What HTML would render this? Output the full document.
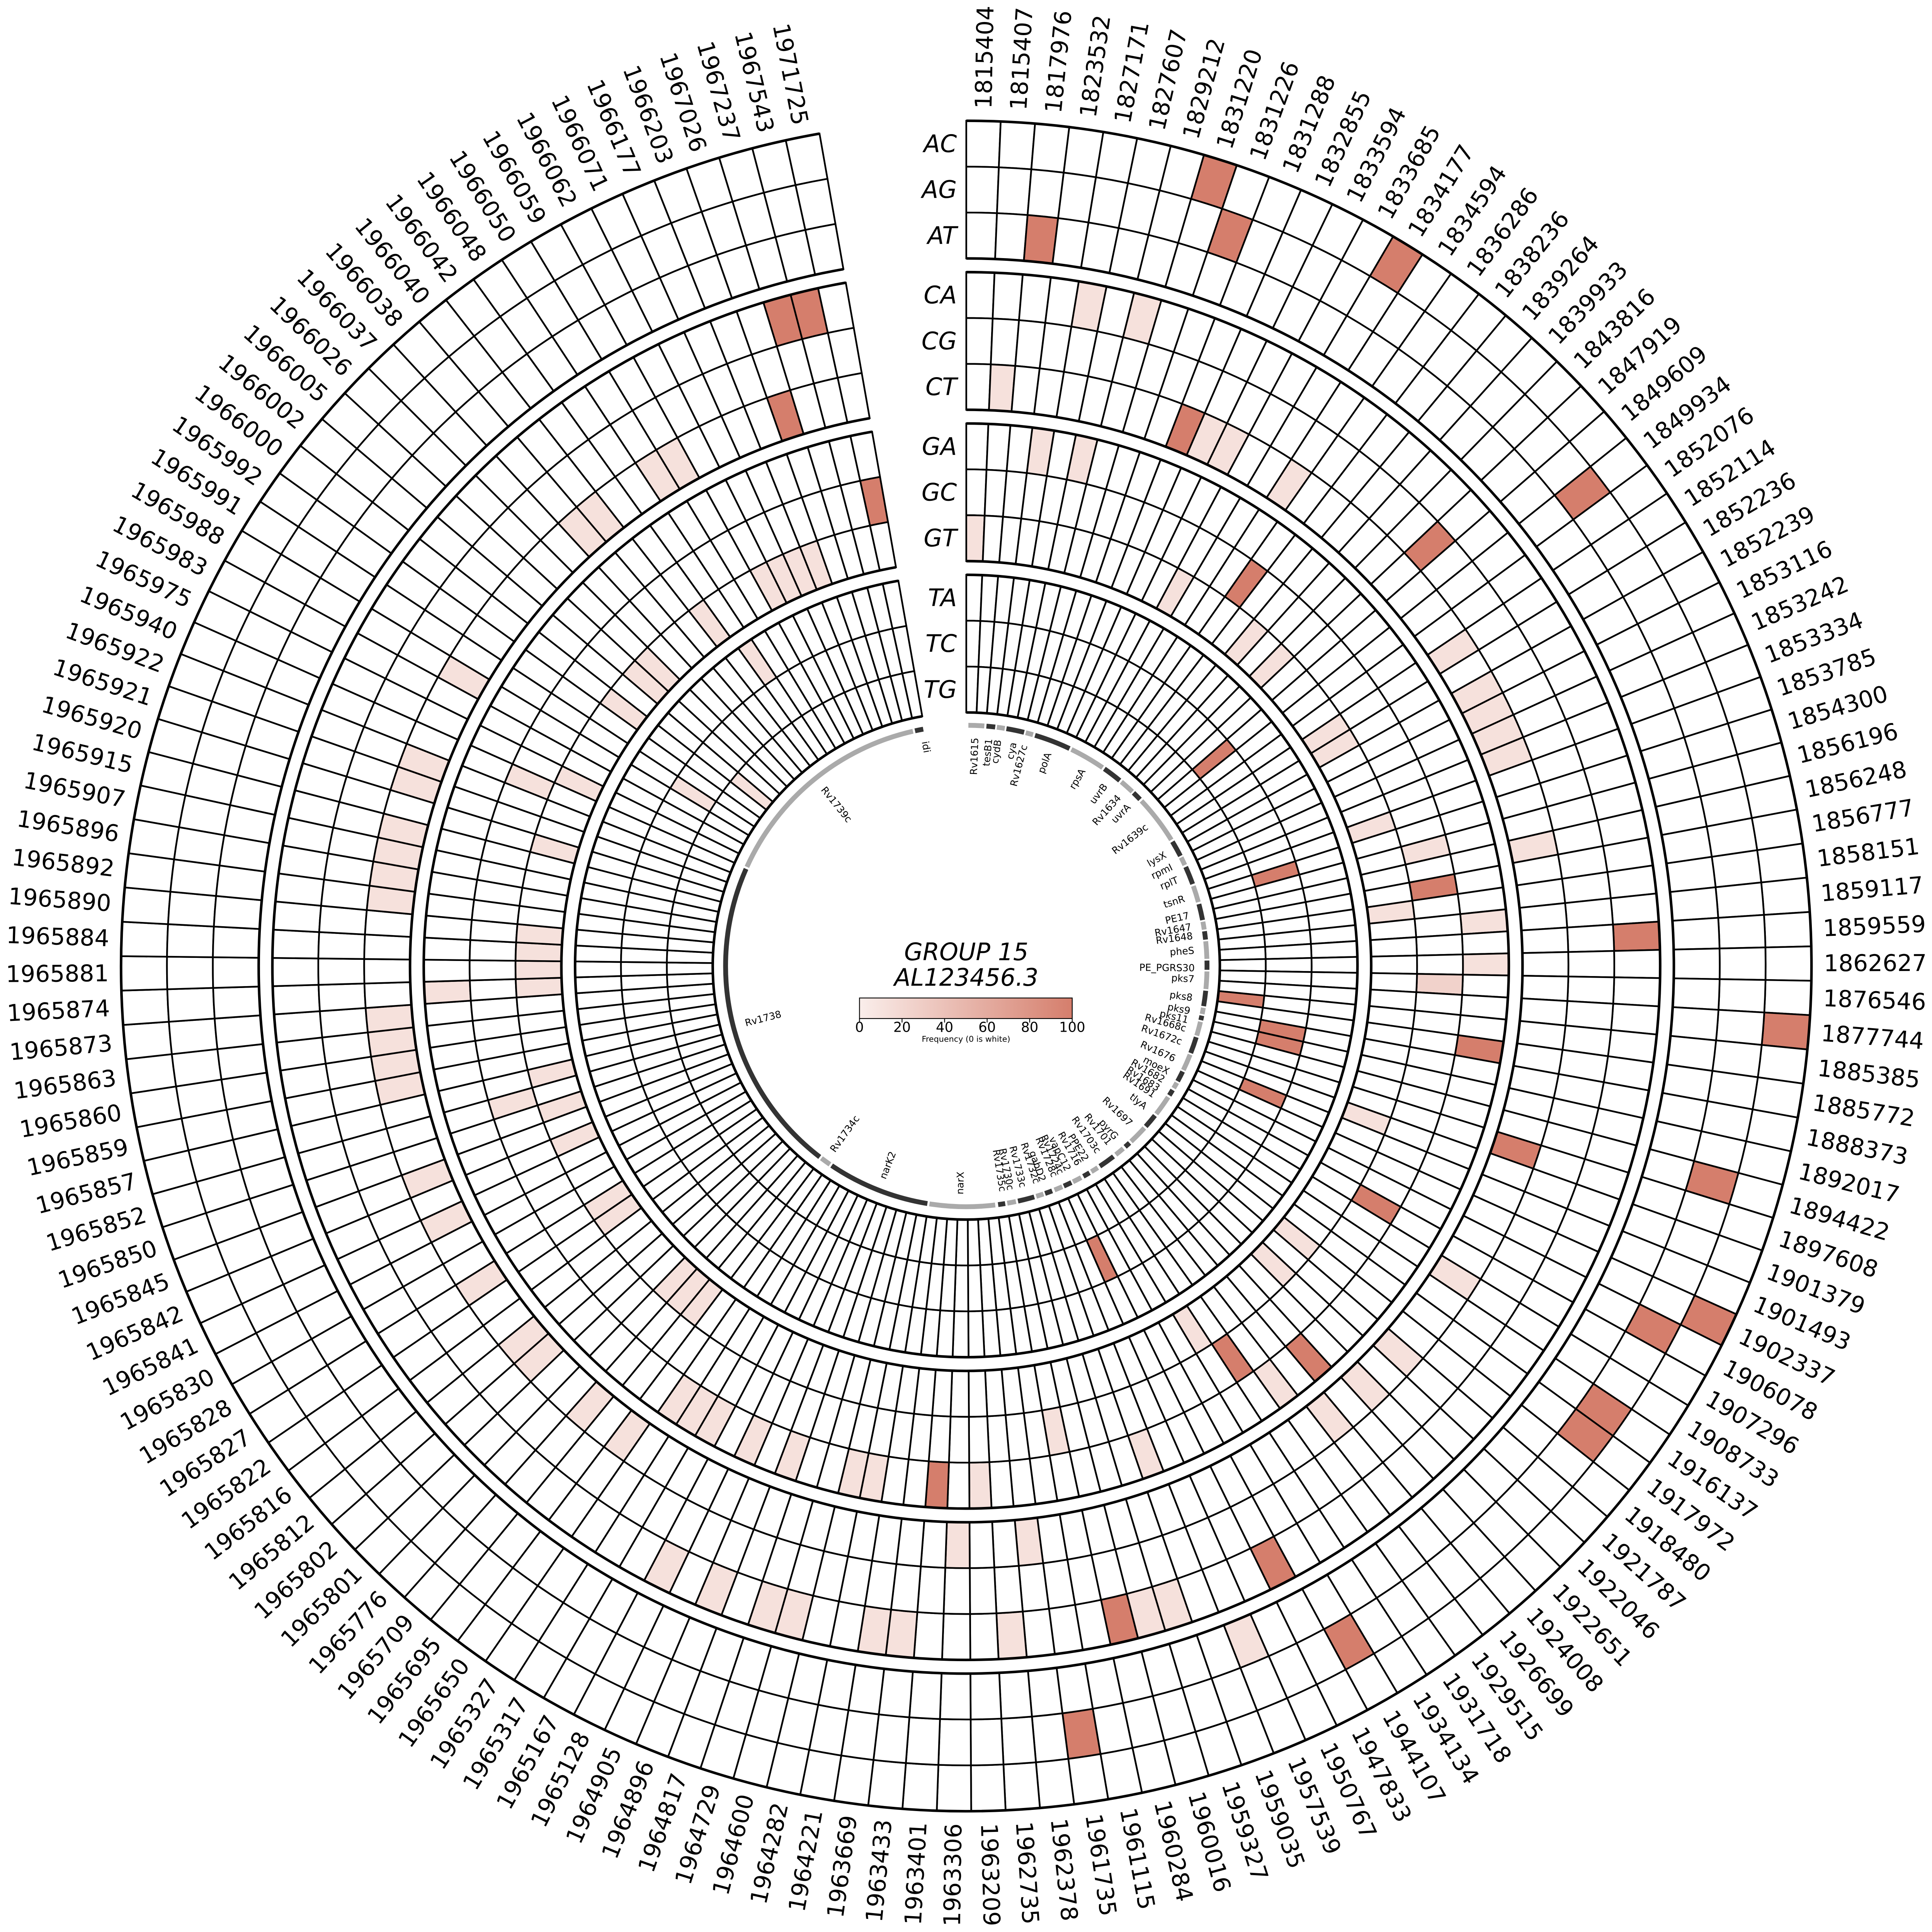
<!DOCTYPE html>
<html><head><meta charset="utf-8"><title>GROUP 15 circular heatmap</title>
<style>
html,body{margin:0;padding:0;background:#fff;width:100%;height:100%;overflow:hidden;}
svg{display:block;width:100vw;height:100vh;font-family:"DejaVu Sans","Liberation Sans",sans-serif;}
</style></head>
<body>
<svg id="chart" xmlns="http://www.w3.org/2000/svg" viewBox="0 0 6766 6766" preserveAspectRatio="xMidYMid meet">
<defs>
<linearGradient id="cbgrad" x1="0" y1="0" x2="1" y2="0">
<stop offset="0" stop-color="rgb(250,238,235)"/>
<stop offset="1" stop-color="rgb(213,126,108)"/>
</linearGradient>
</defs>
<rect x="0" y="0" width="6766" height="6766" fill="#fff"/>
<g id="cells"></g>
<g id="groupArcs"></g>
<g id="colLabels"></g>
<g id="rowLabels"></g>
<g id="genes"></g>
<g>
<text x="3384" y="3363" text-anchor="middle" font-size="84" font-style="italic">GROUP 15</text>
<text x="3384" y="3452" text-anchor="middle" font-size="84" font-style="italic">AL123456.3</text>
</g>
<g id="colorbar">
<rect x="3010" y="3495" width="745" height="72" fill="url(#cbgrad)" stroke="#000" stroke-width="3"/>
<text x="3383" y="3648" text-anchor="middle" font-size="28">Frequency (0 is white)</text>
</g>
</svg>
<script>
// ---- data ----
const positions = ["1815404","1815407","1817976","1823532","1827171","1827607","1829212","1831220","1831226","1831288","1832855","1833594","1833685","1834177","1834594","1836286","1838236","1839264","1839933","1843816","1847919","1849609","1849934","1852076","1852114","1852236","1852239","1853116","1853242","1853334","1853785","1854300","1856196","1856248","1856777","1858151","1859117","1859559","1862627","1876546","1877744","1885385","1885772","1888373","1892017","1894422","1897608","1901379","1901493","1902337","1906078","1907296","1908733","1916137","1917972","1918480","1921787","1922046","1922651","1924008","1926699","1929515","1931718","1934134","1944107","1947833","1950767","1957539","1959035","1959327","1960016","1960284","1961115","1961735","1962378","1962735","1963209","1963306","1963401","1963433","1963669","1964221","1964282","1964600","1964729","1964817","1964896","1964905","1965128","1965167","1965317","1965327","1965650","1965695","1965709","1965776","1965801","1965802","1965812","1965816","1965822","1965827","1965828","1965830","1965841","1965842","1965845","1965850","1965852","1965857","1965859","1965860","1965863","1965873","1965874","1965881","1965884","1965890","1965892","1965896","1965907","1965915","1965920","1965921","1965922","1965940","1965975","1965983","1965988","1965991","1965992","1966000","1966002","1966005","1966026","1966037","1966038","1966040","1966042","1966048","1966050","1966059","1966062","1966071","1966177","1966203","1967026","1967237","1967543","1971725"];
const rowNames = ["AC","AG","AT","CA","CG","CT","GA","GC","GT","TA","TC","TG"];
// sparse [columnIndex, frequency] pairs per substitution row (others = 0)
const rowAC = [[7,100],[13,100],[40,100],[49,100]];
const rowAG = [[8,100],[22,100],[45,100],[50,100],[53,100],[54,100],[64,100],[73,100]];
const rowAT = [[2,100],[67,12]];
const rowCA = [[4,12],[6,12],[37,100],[65,100],[69,12],[70,12],[71,100],[75,12],[79,12],[80,12],[83,12],[84,12],[86,12],[88,12],[147,100],[148,100]];
const rowCG = [[20,100]];
const rowCT = [[1,12],[9,100],[10,12],[11,12],[14,12],[24,12],[26,12],[27,12],[28,12],[29,12],[33,12],[46,100],[52,12],[56,12],[58,12],[60,12],[74,12],[77,12],[92,12],[94,12],[97,12],[98,12],[101,12],[104,12],[106,12],[110,12],[111,12],[112,12],[113,12],[118,12],[119,12],[120,12],[121,12],[123,12],[124,12],[128,12],[136,12],[137,12],[140,12],[141,12],[146,100]];
const rowGA = [[3,12],[5,12],[36,12],[38,12],[42,100],[59,100],[61,12],[68,12],[76,12],[78,100],[81,12],[82,12],[85,12],[87,12],[89,12],[90,12],[91,12],[114,12]];
const rowGC = [[15,100],[32,12],[34,100],[39,25],[51,100],[62,100],[72,12],[108,12],[125,12],[149,100]];
const rowGT = [[0,12],[12,12],[17,12],[19,12],[24,12],[25,12],[30,12],[35,12],[47,12],[55,12],[57,12],[63,12],[93,12],[94,12],[95,12],[100,12],[101,12],[105,12],[107,12],[109,12],[114,12],[115,12],[116,12],[117,12],[122,12],[126,12],[131,12],[133,12],[134,12],[138,12],[142,12],[143,12],[144,12],[145,12]];
const rowTA = [[139,12]];
const rowTC = [[21,100],[31,100],[43,100],[44,100],[48,100],[66,100],[129,12]];
const rowTG = [[41,100],[132,12]];
const rowData = [rowAC,rowAG,rowAT,rowCA,rowCG,rowCT,rowGA,rowGC,rowGT,rowTA,rowTC,rowTG];
const cbTicks = [0,20,40,60,80,100];
const geneNames = ["Rv1615","tesB1","cydB","cya","Rv1627c","polA","rpsA","uvrB","Rv1634","uvrA","Rv1639c","lysX","rpmI","rplT","tsnR","PE17","Rv1647","Rv1648","pheS","PE_PGRS30","pks7","pks8","pks9","pks11","Rv1668c","Rv1672c","Rv1676","moeX","Rv1682","Rv1683","Rv1691","tlyA","Rv1697","pyrG","Rv1701","Rv1703c","PPE22","Rv1716","vapC12","Rv1724c","Rv1728c","gabD2","Rv1732c","Rv1733c","Rv1730c","Rv1735c","narX","narK2","Rv1734c","Rv1738","Rv1739c","idi"];
const geneStart = [0.5,4.8,7.3,9.6,14.3,16.6,25.9,35.0,40.1,44.0,46.7,58.9,63.2,65.7,70.6,75.1,79.4,81.7,84.1,88.7,91.3,95.9,100.0,101.9,103.4,107.2,111.6,116.0,119.0,121.0,123.0,128.4,132.3,137.3,139.3,142.3,146.9,149.2,151.5,154.1,156.5,159.1,161.3,163.6,168.1,170.7,173.1,189.3,214.5,217.5,294.3,347.7];
const geneEnd   = [4.3,6.9,9.2,13.9,16.1,25.4,34.5,39.6,43.6,46.2,58.4,62.8,65.2,70.1,74.6,79.0,81.3,83.7,88.3,90.9,95.5,99.6,101.5,103.0,106.8,111.2,115.6,118.6,120.5,122.5,127.9,131.8,136.8,138.7,141.6,146.3,148.7,150.9,153.7,156.1,158.5,160.9,163.1,167.6,170.2,172.4,188.8,214.0,217.0,293.8,347.2,349.7];
const geneLabelAngle = [2.2,5.7,8.0,11.9,14.7,21.1,30.7,37.5,42.0,45.4,52.2,60.7,64.2,67.8,72.8,77.2,80.1,82.4,86.1,90.5,93.3,98.0,101.4,103.7,105.9,109.4,114.0,117.6,120.0,122.5,124.5,128.2,133.9,138.9,141.1,144.6,148.3,150.5,153.5,155.5,157.2,160.4,162.0,165.6,168.8,170.8,181.6,201.5,215.9,255.5,321.2,349.6];

// ---- geometry ----
const NS = "http://www.w3.org/2000/svg";
const cx = 3384, cy = 3383;
const SPAN = 350;
const colW = SPAN / positions.length;
const groupOuter0 = 2960, groupStep = 530, groupThick = 482;
const rowH = groupThick / 3;
function angleOf(col){ return col * colW; }
function radiusOuter(row){ const g = Math.floor(row/3), j = row%3; return groupOuter0 - g*groupStep - j*rowH; }
function pt(r,a){ const t=a*Math.PI/180; return [cx + r*Math.sin(t), cy - r*Math.cos(t)]; }
function sector(a0,a1,r0,r1){
  const large = (a1-a0) > 180 ? 1 : 0;
  const p1=pt(r1,a0), p2=pt(r1,a1), p3=pt(r0,a1), p4=pt(r0,a0);
  return `M${p1[0].toFixed(2)},${p1[1].toFixed(2)} A${r1},${r1} 0 ${large} 1 ${p2[0].toFixed(2)},${p2[1].toFixed(2)} L${p3[0].toFixed(2)},${p3[1].toFixed(2)} A${r0},${r0} 0 ${large} 0 ${p4[0].toFixed(2)},${p4[1].toFixed(2)} Z`;
}
function color(v){
  if(!v) return "#ffffff";
  const c0=[250,238,235], c1=[213,126,108], t=Math.max(0,Math.min(1,v/100));
  return `rgb(${Math.round(c0[0]+(c1[0]-c0[0])*t)},${Math.round(c0[1]+(c1[1]-c0[1])*t)},${Math.round(c0[2]+(c1[2]-c0[2])*t)})`;
}

// ---- cells ----
const cellsG = document.getElementById("cells");
for(let row=0; row<rowNames.length; row++){
  const vals = new Array(positions.length).fill(0);
  rowData[row].forEach(([c,v]) => { vals[c] = v; });
  const rO = radiusOuter(row), rI = rO - rowH;
  for(let c=0; c<positions.length; c++){
    const p = document.createElementNS(NS,"path");
    p.setAttribute("d", sector(angleOf(c), angleOf(c+1), rI, rO));
    p.setAttribute("fill", color(vals[c]));
    p.setAttribute("stroke", "#000");
    p.setAttribute("stroke-width", "6");
    
    
    cellsG.appendChild(p);
  }
}
// ---- group border arcs ----
const arcsG = document.getElementById("groupArcs");
for(let g=0; g<4; g++){
  [groupOuter0 - g*groupStep, groupOuter0 - g*groupStep - groupThick].forEach(r => {
    const a = document.createElementNS(NS,"path");
    const p1=pt(r,0), p2=pt(r,SPAN);
    a.setAttribute("d", `M${p1[0]},${p1[1]} A${r},${r} 0 1 1 ${p2[0]},${p2[1]}`);
    a.setAttribute("fill","none");
    a.setAttribute("stroke","#000");
    a.setAttribute("stroke-width","9");
    
    
    arcsG.appendChild(a);
  });
}
// ---- column labels ----
const colG = document.getElementById("colLabels");
const labR = 3003;
positions.forEach((lab,c) => {
  const th = angleOf(c+0.5);
  const [x,y] = pt(labR, th);
  const t = document.createElementNS(NS,"text");
  t.textContent = lab;
  t.setAttribute("x", x.toFixed(2));
  t.setAttribute("y", y.toFixed(2));
  t.setAttribute("font-size","81");
  t.setAttribute("dominant-baseline","central");
  if(th < 180){ t.setAttribute("text-anchor","start"); t.setAttribute("transform",`rotate(${(th-90).toFixed(3)} ${x.toFixed(2)} ${y.toFixed(2)})`); }
  else { t.setAttribute("text-anchor","end"); t.setAttribute("transform",`rotate(${(th-270).toFixed(3)} ${x.toFixed(2)} ${y.toFixed(2)})`); }
  
  
  colG.appendChild(t);
});
// ---- row labels ----
const rowG = document.getElementById("rowLabels");
rowNames.forEach((nm,row) => {
  const rc = radiusOuter(row) - rowH/2;
  const t = document.createElementNS(NS,"text");
  t.textContent = nm;
  t.setAttribute("x","3351");
  t.setAttribute("y",(cy - rc).toFixed(2));
  t.setAttribute("font-size","84");
  t.setAttribute("font-style","italic");
  t.setAttribute("text-anchor","end");
  t.setAttribute("dominant-baseline","central");
  
  
  rowG.appendChild(t);
});
// ---- gene track ----
const geneG = document.getElementById("genes");
const gR = 843, gT = 17, gLabR = 800;
geneNames.forEach((nm,i) => {
  const a0 = geneStart[i], a1 = geneEnd[i];
  const seg = document.createElementNS(NS,"path");
  seg.setAttribute("d", sector(a0, a1, gR - gT/2, gR + gT/2));
  seg.setAttribute("fill", i % 2 === 0 ? "#aaaaaa" : "#333333");
  
  
  geneG.appendChild(seg);
  const th = geneLabelAngle[i];
  const [x,y] = pt(gLabR, th);
  const t = document.createElementNS(NS,"text");
  t.textContent = nm;
  t.setAttribute("x", x.toFixed(2));
  t.setAttribute("y", y.toFixed(2));
  t.setAttribute("font-size","34");
  t.setAttribute("dominant-baseline","central");
  if(th < 180){ t.setAttribute("text-anchor","end"); t.setAttribute("transform",`rotate(${(th-90).toFixed(3)} ${x.toFixed(2)} ${y.toFixed(2)})`); }
  else { t.setAttribute("text-anchor","start"); t.setAttribute("transform",`rotate(${(th-270).toFixed(3)} ${x.toFixed(2)} ${y.toFixed(2)})`); }
  
  
  geneG.appendChild(t);
});
// ---- colorbar ticks ----
const cb = document.getElementById("colorbar");
const cbX0 = 3010, cbX1 = 3755, cbY1 = 3567;
cbTicks.forEach(v => {
  const x = cbX0 + (cbX1 - cbX0) * v / 100;
  const l = document.createElementNS(NS,"line");
  l.setAttribute("x1", x); l.setAttribute("x2", x);
  l.setAttribute("y1", cbY1); l.setAttribute("y2", cbY1 + 14);
  l.setAttribute("stroke","#000"); l.setAttribute("stroke-width","3");
  
  
  cb.appendChild(l);
  const t = document.createElementNS(NS,"text");
  t.textContent = String(v);
  t.setAttribute("x", x); t.setAttribute("y", "3598");
  t.setAttribute("font-size","48");
  t.setAttribute("text-anchor","middle");
  t.setAttribute("dominant-baseline","central");
  
  
  cb.appendChild(t);
});
</script>
</body></html>
